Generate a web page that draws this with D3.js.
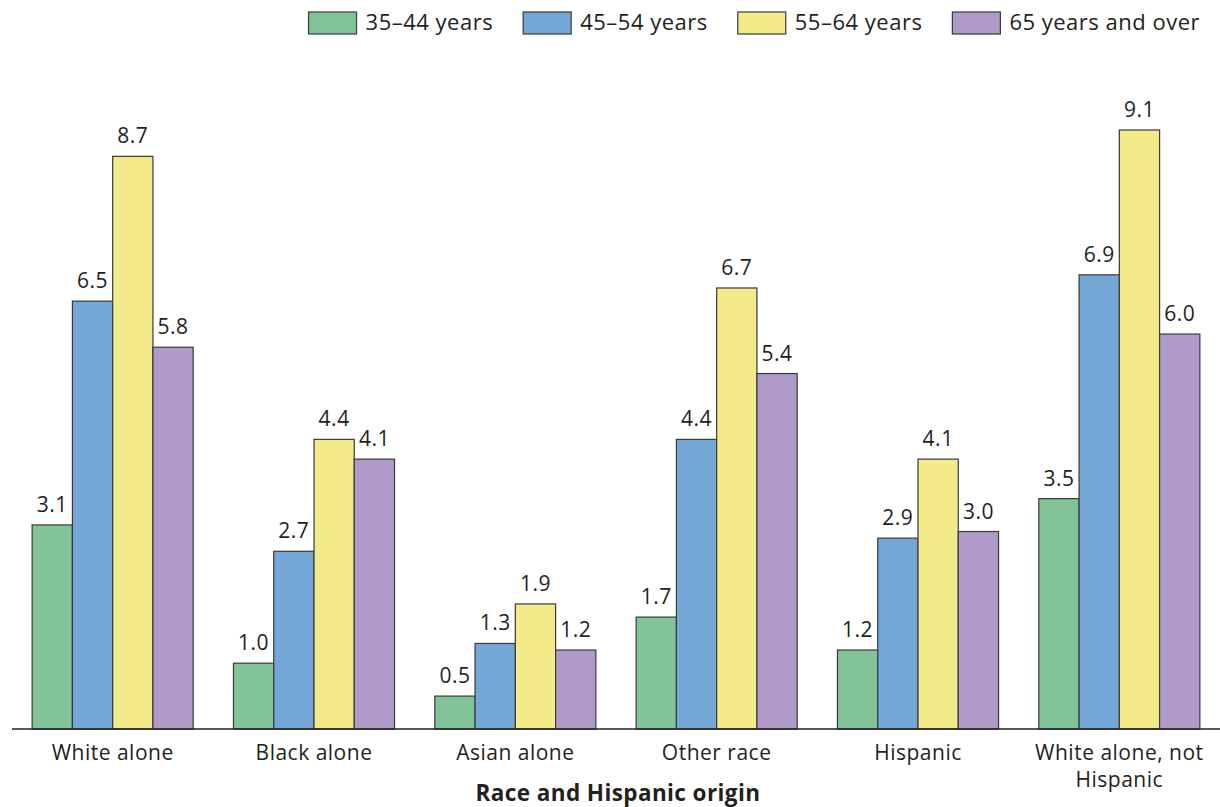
<!DOCTYPE html>
<html>
<head>
<meta charset="utf-8">
<script src="https://cdn.jsdelivr.net/npm/d3@7"></script>
<style>
  html, body { margin: 0; padding: 0; background: #fff; }
  svg { display: block; font-family: "Open Sans", sans-serif; }
</style>
</head>
<body>
<svg id="chart" width="1220" height="807"></svg>
<script>
// Groups along the x axis
const categories = ["White alone", "Black alone", "Asian alone", "Other race", "Hispanic", "White alone, not Hispanic"];
const categoryLines = [["White alone"], ["Black alone"], ["Asian alone"], ["Other race"], ["Hispanic"], ["White alone, not", "Hispanic"]];

// Age groups (series)
const seriesNames = ["35\u201344 years", "45\u201354 years", "55\u201364 years", "65 years and over"];
const seriesColors = ["#82c398", "#74a7d6", "#f3ea8a", "#af9ac9"];

// Values per age group, one per category
const age35to44 = [3.1, 1.0, 0.5, 1.7, 1.2, 3.5];
const age45to54 = [6.5, 2.7, 1.3, 4.4, 2.9, 6.9];
const age55to64 = [8.7, 4.4, 1.9, 6.7, 4.1, 9.1];
const age65plus = [5.8, 4.1, 1.2, 5.4, 3.0, 6.0];
const seriesValues = [age35to44, age45to54, age55to64, age65plus];

const axisTitle = "Race and Hispanic origin";

const svg = d3.select("#chart");
const baseY = 729;

const x0 = d3.scaleBand().domain(categories).range([12, 1220]).paddingInner(0.2).paddingOuter(0.1);
const x1 = d3.scaleBand().domain(seriesNames).range([0, x0.bandwidth()]).padding(0);
const y = d3.scaleLinear().domain([0, 9.1]).range([baseY, 130]);

const rows = [];
categories.forEach((c, ci) => {
  seriesNames.forEach((s, si) => {
    rows.push({ cat: c, series: s, si, value: seriesValues[si][ci] });
  });
});

const fmt = d3.format(".1f");

// Bars
svg.append("g").selectAll("rect").data(rows).join("rect")
  .attr("x", d => x0(d.cat) + x1(d.series))
  .attr("y", d => y(d.value))
  .attr("width", x1.bandwidth())
  .attr("height", d => baseY - y(d.value))
  .attr("fill", d => seriesColors[d.si])
  .attr("stroke", "#3a3a3a")
  .attr("stroke-width", 1.2);

// Value labels
svg.append("g").selectAll("text").data(rows).join("text")
  .attr("x", d => x0(d.cat) + x1(d.series) + x1.bandwidth() / 2)
  .attr("y", d => y(d.value) - 13)
  .attr("text-anchor", "middle")
  .attr("font-size", 21)
  .attr("letter-spacing", 0.5)
  .attr("fill", "#231f20")
  .text(d => fmt(d.value));

// Baseline
svg.append("line")
  .attr("x1", 12).attr("x2", 1220)
  .attr("y1", baseY).attr("y2", baseY)
  .attr("stroke", "#231f20").attr("stroke-width", 1.3);

// Category labels
const catG = svg.append("g");
categories.forEach((c, ci) => {
  const t = catG.append("text")
    .attr("x", x0(c) + x0.bandwidth() / 2)
    .attr("y", 760)
    .attr("text-anchor", "middle")
    .attr("font-size", 21)
    .attr("letter-spacing", 0.5)
    .attr("fill", "#231f20");
  categoryLines[ci].forEach((ln, li) => {
    t.append("tspan").attr("x", x0(c) + x0.bandwidth() / 2).attr("dy", li === 0 ? 0 : 27).text(ln);
  });
});

// Axis title
svg.append("text")
  .attr("x", 618).attr("y", 801)
  .attr("text-anchor", "middle")
  .attr("font-size", 22.5)
  .attr("font-weight", "bold")
  .attr("letter-spacing", 0.4)
  .attr("fill", "#231f20")
  .text(axisTitle);

// Legend, right-aligned at the top
const legend = svg.append("g");
const items = seriesNames.map((s, i) => {
  const g = legend.append("g");
  g.append("rect").attr("x", 0).attr("y", 12).attr("width", 48).attr("height", 22)
    .attr("fill", seriesColors[i]).attr("stroke", "#3a3a3a").attr("stroke-width", 1.2);
  const t = g.append("text").attr("x", 57).attr("y", 30).attr("font-size", 22)
    .attr("letter-spacing", 0.5).attr("fill", "#231f20").text(s);
  return { g, w: 57 + t.node().getComputedTextLength() };
});
let lx = 1200;
for (let i = items.length - 1; i >= 0; i--) {
  lx -= items[i].w;
  items[i].g.attr("transform", `translate(${lx},0)`);
  lx -= 30;
}
</script>
</body>
</html>
